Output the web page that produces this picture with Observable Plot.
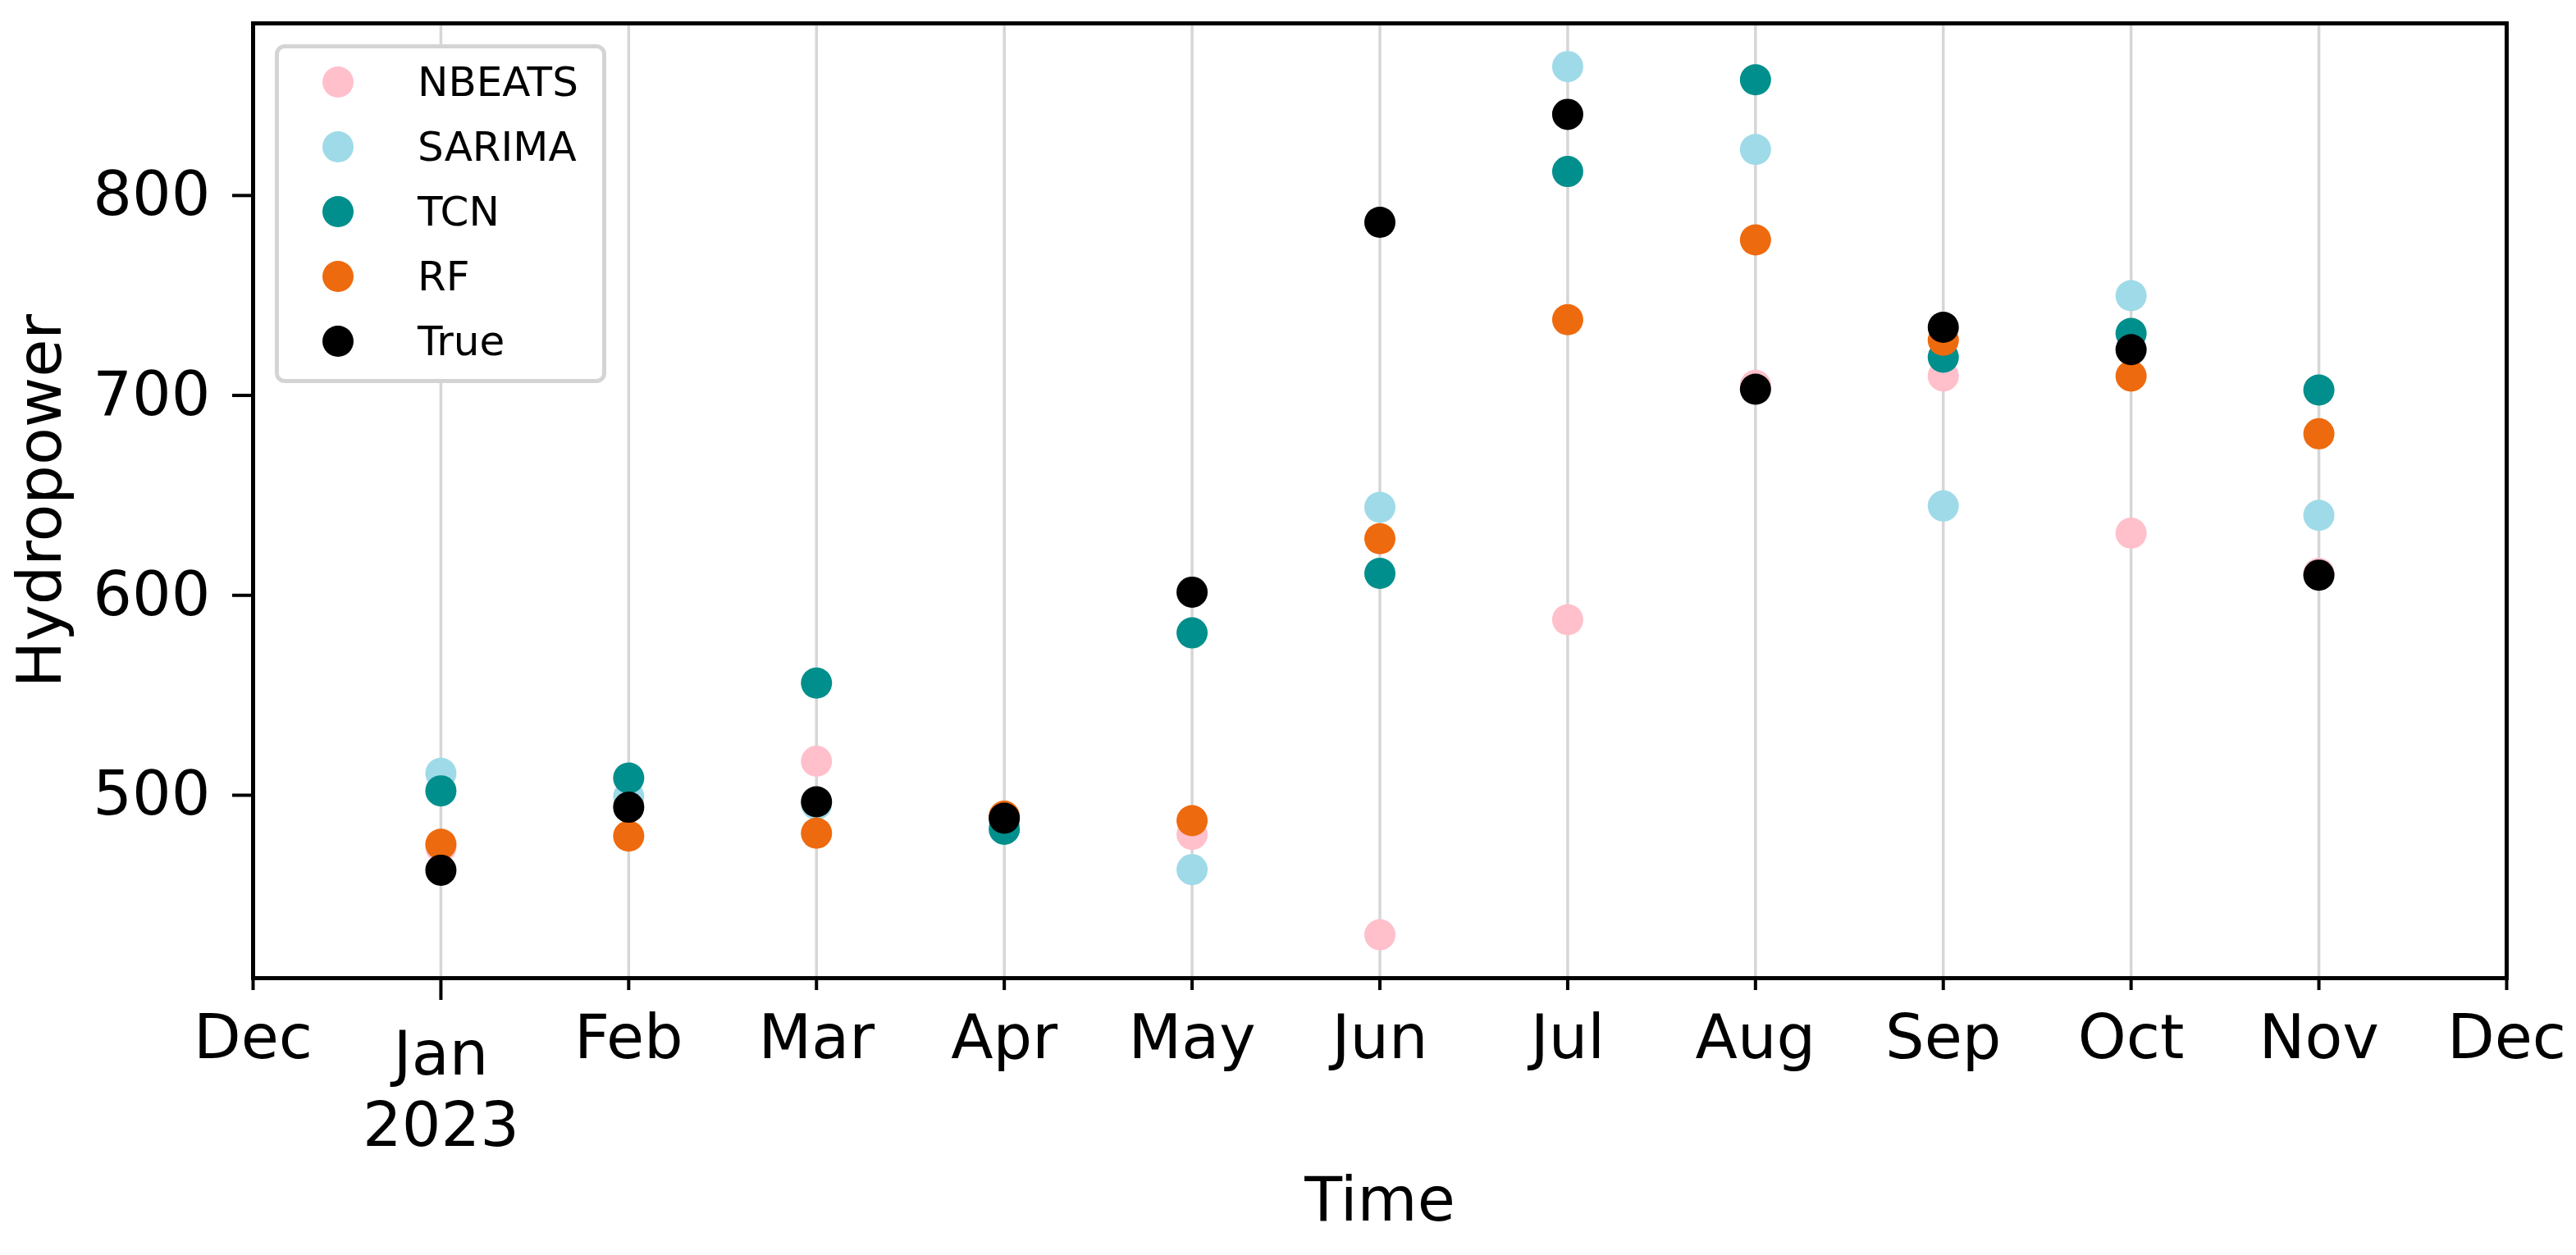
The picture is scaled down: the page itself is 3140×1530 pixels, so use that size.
<!DOCTYPE html>
<html>
<head>
<meta charset="utf-8">
<script src="https://cdn.jsdelivr.net/npm/d3@7"></script>
<script src="https://cdn.jsdelivr.net/npm/@observablehq/plot@0.6"></script>
<style>
  html, body { margin: 0; padding: 0; background: #fff; }
  #wrap { position: relative; width: 3140px; height: 1530px; font-family: "DejaVu Sans", sans-serif; }
  #legend { position: absolute; left: 335px; top: 54px; width: 404px; height: 413px; box-sizing: border-box;
            border: 5px solid #d4d4d4; border-radius: 12px; background: #fff; }
  .lrow { position: absolute; left: 0; height: 0; }
  .lmark { position: absolute; width: 38px; height: 38px; border-radius: 50%; left: 52.6px; top: -19px; }
  .ltext { position: absolute; left: 169px; top: -25px; font-size: 50px; line-height: 50px; color: #000; white-space: nowrap; }
</style>
</head>
<body>
<div id="wrap"></div>
<script>
// ---- data ----
const monthIdx = [1, 2, 3, 4, 5, 6, 7, 8, 9, 10, 11]; // Jan..Nov 2023
const xTickLabels = ["Dec", "Jan\n2023", "Feb", "Mar", "Apr", "May", "Jun", "Jul", "Aug", "Sep", "Oct", "Nov", "Dec"];
const yTicks = [500, 600, 700, 800];

const seriesNames = ["NBEATS", "SARIMA", "TCN", "RF", "True"];
const seriesColors = ["#FFC0CB", "#9FDAE8", "#008F8C", "#EE6A0E", "#000000"];

const nbeats = [474, 495, 517, 488, 480.4, 430.2, 587.8, 705, 709.7, 631.1, 611];
const sarima = [511, 499.4, 495.5, 486, 462.8, 644.0, 864.5, 823.0, 644.7, 749.9, 640.0];
const tcn    = [502.2, 508.6, 556.1, 483, 581.2, 611.0, 812.0, 857.9, 719.1, 731.0, 702.7];
const rf     = [475.5, 479.6, 481, 489.5, 487.3, 628.3, 737.9, 777.8, 727.6, 709.7, 680.8];
const trueV  = [462.5, 494, 496.7, 488.5, 601.6, 786.6, 840.6, 703.1, 734.1, 722.9, 610.1];

const seriesValues = [nbeats, sarima, tcn, rf, trueV];

// ---- chart ----
const font = "DejaVu Sans";
const tickFmt = d => xTickLabels[d];
const minorTicks = d3.range(0, 13).filter(d => d !== 1);

const dotMarks = seriesValues.map((vals, k) =>
  Plot.dot(vals, {x: (d, i) => monthIdx[i], y: d => d, r: 19, fill: seriesColors[k], stroke: "none"})
);

const chart = Plot.plot({
  width: 3140,
  height: 1530,
  marginLeft: 308,
  marginRight: 85,
  marginTop: 28,
  marginBottom: 338,
  style: {fontFamily: font, fontSize: "75px", background: "#fff", color: "#000"},
  x: {type: "linear", domain: [0, 12]},
  y: {domain: [408.5, 886.1]},
  marks: [
    Plot.gridX(monthIdx, {stroke: "#d6d6d6", strokeOpacity: 1, strokeWidth: 3.5}),
    ...dotMarks,
    Plot.frame({stroke: "#000", strokeWidth: 5}),
    Plot.axisX(minorTicks, {tickSize: 15, tickPadding: 29, strokeWidth: 4, fontSize: 75, tickFormat: tickFmt, label: null}),
    Plot.axisX([1], {tickSize: 27, tickPadding: 29, strokeWidth: 4, fontSize: 75, lineHeight: 1.16, tickFormat: tickFmt, label: null}),
    Plot.axisY(yTicks, {tickSize: 25, tickPadding: 27, strokeWidth: 4, fontSize: 75, label: null}),
    Plot.text(["Time"], {frameAnchor: "bottom", dy: 271, fontSize: 75, lineAnchor: "middle", textAnchor: "middle", fill: "#000"}),
    Plot.text(["Hydropower"], {frameAnchor: "left", dx: -259, rotate: -90, fontSize: 75, lineAnchor: "middle", textAnchor: "middle", fill: "#000"})
  ]
});

const wrap = document.getElementById("wrap");
wrap.appendChild(chart);

// ---- legend (HTML overlay) ----
const legend = document.createElement("div");
legend.id = "legend";
seriesNames.forEach((name, k) => {
  const row = document.createElement("div");
  row.className = "lrow";
  row.style.top = (40.5 + k * 79.2) + "px";
  const mk = document.createElement("div");
  mk.className = "lmark";
  mk.style.background = seriesColors[k];
  const tx = document.createElement("div");
  tx.className = "ltext";
  tx.textContent = name;
  row.appendChild(mk);
  row.appendChild(tx);
  legend.appendChild(row);
});
wrap.appendChild(legend);
</script>
</body>
</html>
